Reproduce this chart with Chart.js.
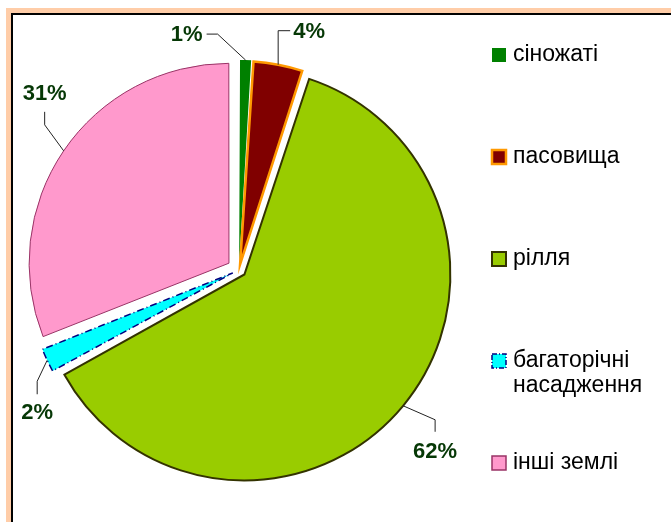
<!DOCTYPE html>
<html>
<head>
<meta charset="utf-8">
<script src="https://cdn.jsdelivr.net/npm/chart.js@4"></script>
<style>
  body { margin: 0; background: #fff; }
  #wrap { position: relative; width: 671px; height: 522px; overflow: hidden; }
  #frame { position: absolute; left: 6px; top: 8px; right: -20px; bottom: -20px;
           border-left: 5px solid #ffcda8; border-top: 5px solid #ffcda8; }
  #inner { position: absolute; left: 0; top: 0; right: 0; bottom: 0;
           border-left: 2px solid #000; border-top: 2px solid #000; }
  canvas { position: absolute; left: 0; top: 0; }
</style>
</head>
<body>
<div id="wrap">
  <div id="frame"><div id="inner"></div></div>
  <canvas id="myChart" width="671" height="522"></canvas>
</div>
<script>
// land use structure, %
const categories = ['сіножаті', 'пасовища', 'рілля', 'багаторічні насадження', 'інші землі'];
const shares = [1, 4, 62, 2, 31];
const pctLabels = ['1%', '4%', '62%', '2%', '31%'];

const fills = ['#008000', '#800000', '#99cc00', '#00ffff', '#ff99cc'];
const edges = ['#008000', '#ff9900', '#333300', '#000080', '#993366'];
const edgeWidths = [0, 2.5, 2, 1.5, 1];
const explode = [11, 10, 14, 13, 13];

// leader line shape for each label: elbow, end, text point (relative to the slice edge)
const leaders = [
    { elbow: [-28, -26], end: [-39, -26], text: [-43, -25], align: 'right' },
    { elbow: [0, -34], end: [12, -34], text: [15, -33], align: 'left' },
    { elbow: [32, 14], end: [32, 26], text: [32, 46], align: 'center' },
    { elbow: [-10, 21], end: [-10, 34], text: [-10, 53], align: 'center' },
    { elbow: [-19, -26], end: [-19, -39], text: [-19, -57], align: 'center' },
];

const total = shares.reduce((a, b) => a + b, 0);

// chart.js moves a slice by offset/4 * (2 - sin(circ)), so undo that
const arcOffset = (c) => {
    const circ = c.raw / total * Math.PI * 2;
    const k = 2 - Math.sin(Math.min(Math.PI, circ));
    return 4 * explode[c.dataIndex] / k;
};

const leaderPlugin = {
    id: 'leaders',
    afterDatasetsDraw(chart) {
        const ctx = chart.ctx;
        const arcs = chart.getDatasetMeta(0).data;
        arcs.forEach((arc, i) => {
            const mid = (arc.startAngle + arc.endAngle) / 2;
            const circ = arc.endAngle - arc.startAngle;
            const shift = arc.options.offset / 4 * (2 - Math.sin(Math.min(Math.PI, circ)));
            const r = arc.outerRadius + shift;
            const ax = arc.x + Math.cos(mid) * r;
            const ay = arc.y + Math.sin(mid) * r;
            const p = leaders[i];
            ctx.save();
            ctx.strokeStyle = '#222';
            ctx.lineWidth = 1;
            ctx.beginPath();
            ctx.moveTo(ax, ay);
            ctx.lineTo(ax + p.elbow[0], ay + p.elbow[1]);
            ctx.lineTo(ax + p.end[0], ay + p.end[1]);
            ctx.stroke();
            ctx.fillStyle = '#063806';
            ctx.font = 'bold 22px "Liberation Sans", Arial, sans-serif';
            ctx.textAlign = p.align;
            ctx.textBaseline = 'middle';
            ctx.fillText(pctLabels[i], ax + p.text[0], ay + p.text[1]);
            ctx.restore();
        });
    }
};

const legendPlugin = {
    id: 'sideLegend',
    afterDraw(chart) {
        const ctx = chart.ctx;
        const boxX = 492, textX = 513, startY = 55, step = 102, box = 14, lineH = 25;
        ctx.save();
        ctx.font = '23px "Liberation Sans", Arial, sans-serif';
        ctx.textBaseline = 'middle';
        categories.forEach((name, i) => {
            const y = startY + step * i;
            // wrap long names
            const lines = [];
            let cur = '';
            name.split(' ').forEach(w => {
                const t = cur ? cur + ' ' + w : w;
                if (ctx.measureText(t).width > 155 && cur) {
                    lines.push(cur);
                    cur = w;
                } else {
                    cur = t;
                }
            });
            lines.push(cur);

            ctx.fillStyle = fills[i];
            ctx.fillRect(boxX, y - box / 2, box, box);
            if (edgeWidths[i] > 0) {
                ctx.strokeStyle = edges[i];
                ctx.lineWidth = Math.max(1.5, edgeWidths[i]);
                ctx.setLineDash(i === 3 ? [5, 2, 1, 2] : []);
                ctx.strokeRect(boxX, y - box / 2, box, box);
                ctx.setLineDash([]);
            }
            ctx.fillStyle = '#000';
            lines.forEach((ln, j) => ctx.fillText(ln, textX, y + j * lineH));
        });
        ctx.restore();
    }
};

const initChartPie = () => {
    const ctx = document.getElementById('myChart');
    return new Chart(ctx, {
        type: 'pie',
        data: {
            labels: categories,
            datasets: [
                {
                    data: shares,
                    backgroundColor: fills,
                    borderColor: edges,
                    borderWidth: edgeWidths,
                    borderJoinStyle: 'miter',
                    borderDash: (c) => (c.dataIndex === 3 ? [7, 3, 1, 3] : []),
                    offset: arcOffset,
                    radius: 199,
                },
            ],
        },
        options: {
            responsive: false,
            animation: false,
            events: [],
            layout: { padding: { left: 30, right: 223, top: 60, bottom: 42 } },
            plugins: {
                legend: { display: false },
                tooltip: { enabled: false },
            },
        },
        plugins: [leaderPlugin, legendPlugin],
    });
};

let chart = initChartPie();
</script>
</body>
</html>
